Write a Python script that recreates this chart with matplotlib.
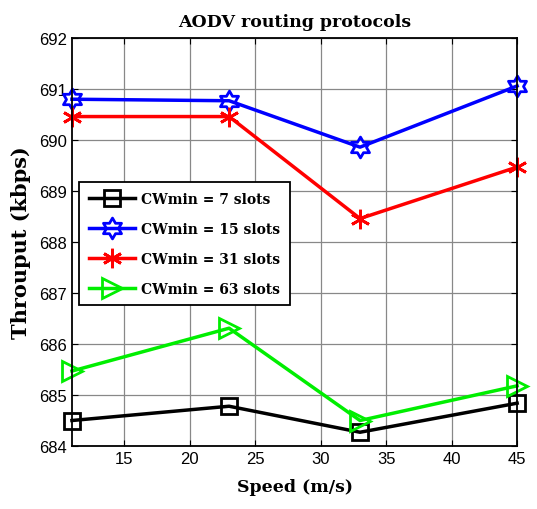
#!/usr/bin/env python3

import numpy as np
import matplotlib
matplotlib.use("Agg")
import matplotlib.pyplot as plt
from matplotlib.path import Path

# -------------------------
# DATA
# -------------------------

speed = [11, 23, 33, 45]

cw7 = [684.50, 684.78, 684.27, 684.84]
cw15 = [690.80, 690.77, 689.86, 691.06]
cw31 = [690.46, 690.46, 688.46, 689.47]
cw63 = [685.47, 686.31, 684.50, 685.18]

labels = ["CWmin = 7 slots", "CWmin = 15 slots", "CWmin = 31 slots", "CWmin = 63 slots"]
xticks = [15, 20, 25, 30, 35, 40, 45]
yticks = [684, 685, 686, 687, 688, 689, 690, 691, 692]

# -------------------------
# HEXAGRAM MARKER (matlab style)
# -------------------------

ang = np.deg2rad(90 + 30 * np.arange(12))
rad = np.where(np.arange(12) % 2 == 0, 1.0, 1 / np.sqrt(3))
verts = np.column_stack([rad * np.cos(ang), rad * np.sin(ang)])
verts = np.vstack([verts, verts[:1]])
hexagram = Path(verts, [Path.MOVETO] + [Path.LINETO] * 11 + [Path.CLOSEPOLY])

# -------------------------
# PLOT
# -------------------------

serif = ["DejaVu Serif"]

fig = plt.figure(figsize=(5.37, 5.10), dpi=100)
ax = fig.add_axes([0.134, 0.1235, 0.829, 0.8])

ax.plot(speed, cw7, color="black", lw=2.5, marker="s", ms=11, mfc="none", mew=2,
        label=labels[0], clip_on=False)
ax.plot(speed, cw15, color="blue", lw=2.5, marker=hexagram, ms=15, mfc="none", mew=2,
        label=labels[1], clip_on=False)
ax.plot(speed, cw31, color="red", lw=2.5, marker=(6, 2, 0), ms=14, mew=2,
        label=labels[2], clip_on=False)
ax.plot(speed, cw63, color="#00ee00", lw=2.5, marker=">", ms=14, mfc="none", mew=2,
        label=labels[3], clip_on=False)

ax.set_xlim(11, 45)
ax.set_ylim(684, 692)
ax.set_xticks(xticks)
ax.set_yticks(yticks)
ax.grid(True, color="#888888", lw=0.9, ls="-")
ax.set_axisbelow(True)
ax.tick_params(direction="in", top=True, right=True, labelsize=12, length=4)
for lab in ax.get_xticklabels() + ax.get_yticklabels():
    lab.set_family(["Liberation Sans", "DejaVu Sans"])
for sp in ax.spines.values():
    sp.set_linewidth(1.3)

ax.set_title("AODV routing protocols", fontsize=12.5, pad=9, family=serif, weight="bold")
ax.set_xlabel("Speed (m/s)", fontsize=12.5, labelpad=9, family=serif, weight="bold")
ax.set_ylabel("Throuput (kbps)", fontsize=15, labelpad=6, family=serif, weight="bold")

leg = ax.legend(loc="upper left", bbox_to_anchor=(0.016, 0.647), fancybox=False,
                edgecolor="black", framealpha=1, handlelength=3.3,
                prop={"family": serif, "weight": "bold", "size": 10},
                borderpad=0.7, labelspacing=1.15, handletextpad=0.45,
                borderaxespad=0)
leg.get_frame().set_linewidth(1.3)

fig.savefig("out.png", dpi=100)
